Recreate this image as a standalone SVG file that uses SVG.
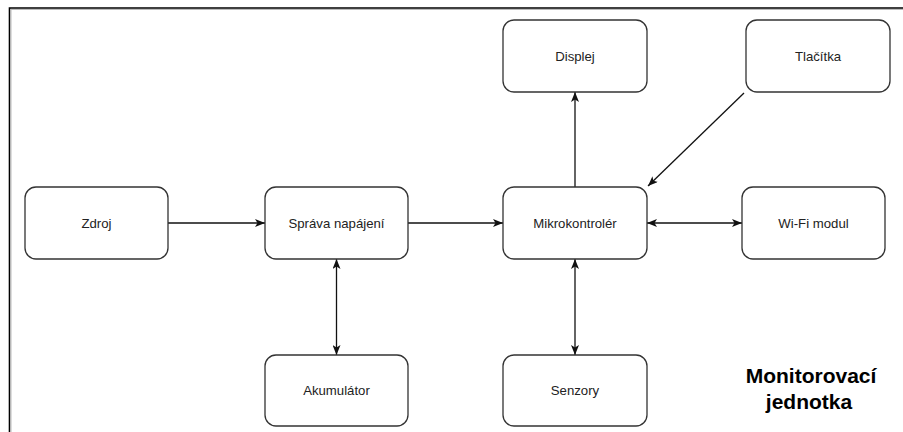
<svg xmlns="http://www.w3.org/2000/svg" width="903" height="432" viewBox="0 0 903 432">
<defs>
<style>
.node rect{fill:#fff;stroke:#333;stroke-width:1.3}
.node text{font-family:"Liberation Sans",Arial,sans-serif;font-size:13.2px;fill:#222;text-anchor:middle}
.edge{stroke:#111;stroke-width:1.3;fill:none}
.title{font-family:"Liberation Sans",Arial,sans-serif;font-size:21px;font-weight:bold;fill:#000;text-anchor:middle}
</style>
<marker id="ah" viewBox="0 0 10 8" refX="10" refY="4" markerWidth="10" markerHeight="8" markerUnits="userSpaceOnUse" orient="auto-start-reverse">
<path d="M0,0 L10,4 L0,8 L2.5,4 Z" fill="#111"/>
</marker>
</defs>
<rect x="0" y="0" width="903" height="432" fill="#fff"/>
<path d="M9.5,440 V8 H910" fill="none" stroke="#000" stroke-width="1.6"/>
<path d="M11,440 V9.5 H910" fill="none" stroke="#bbb" stroke-width="1"/>
<g id="connectors">
<line class="edge" x1="168" y1="223" x2="265" y2="223" marker-end="url(#ah)"/>
<line class="edge" x1="408" y1="223" x2="503" y2="223" marker-end="url(#ah)"/>
<line class="edge" x1="647" y1="223" x2="742" y2="223" marker-start="url(#ah)" marker-end="url(#ah)"/>
<line class="edge" x1="336.5" y1="259" x2="336.5" y2="355" marker-start="url(#ah)" marker-end="url(#ah)"/>
<line class="edge" x1="575" y1="259" x2="575" y2="355" marker-start="url(#ah)" marker-end="url(#ah)"/>
<line class="edge" x1="575" y1="187" x2="575" y2="92" marker-end="url(#ah)"/>
<line class="edge" x1="744" y1="93" x2="648" y2="186" marker-end="url(#ah)"/>
</g>
<g id="zdroj" class="node"><rect x="25" y="187" width="143" height="72" rx="11"/><text x="96.5" y="227.5">Zdroj</text></g>
<g id="sprava" class="node"><rect x="265" y="187" width="143" height="72" rx="11"/><text x="336.5" y="227.5">Správa napájení</text></g>
<g id="mikrokontroler" class="node"><rect x="503" y="187" width="144" height="72" rx="11"/><text x="575" y="227.5">Mikrokontrolér</text></g>
<g id="wifi" class="node"><rect x="742" y="187" width="143" height="72" rx="11"/><text x="813.5" y="227.5">Wi-Fi modul</text></g>
<g id="displej" class="node"><rect x="503" y="20" width="144" height="72" rx="11"/><text x="575" y="60.5">Displej</text></g>
<g id="tlacitka" class="node"><rect x="746" y="20" width="144" height="72" rx="11"/><text x="818" y="60.5">Tlačítka</text></g>
<g id="akumulator" class="node"><rect x="265" y="355" width="143" height="71" rx="11"/><text x="336.5" y="395">Akumulátor</text></g>
<g id="senzory" class="node"><rect x="503" y="355" width="144" height="71" rx="11"/><text x="575" y="395">Senzory</text></g>
<g id="title"><text class="title" x="811" y="383">Monitorovací</text><text class="title" x="809" y="409">jednotka</text></g>
</svg>
